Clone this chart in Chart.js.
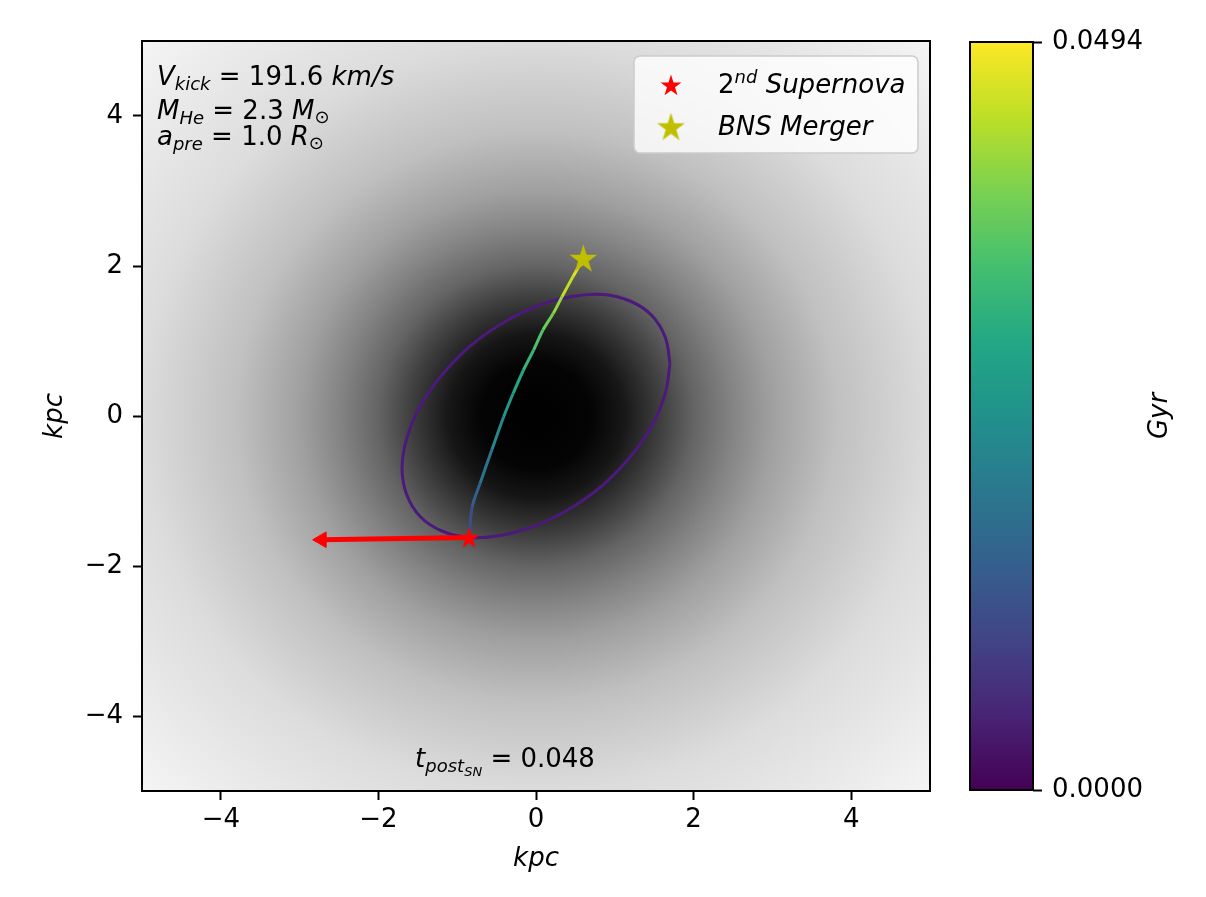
<!DOCTYPE html>
<html lang="en">
<head>
  <meta charset="UTF-8">
  <title>Post-SN kick trajectory</title>
  <script src="https://cdn.jsdelivr.net/npm/chart.js"></script>
  <style>
    body { margin: 0; background: #fff; }
    #wrap { position: relative; width: 1206px; height: 897px; }
    #main { position: absolute; left: 0; top: 0; }
    #cbar { position: absolute; left: 945px; top: 0; }
  </style>
</head>
<body>
<div id="wrap">
  <canvas id="main" width="945" height="897"></canvas>
  <canvas id="cbar" width="261" height="897"></canvas>
</div>

<script>
  // ---- data ----
  const xTicks = [-4, -2, 0, 2, 4];
  const yTicks = [-4, -2, 0, 2, 4];
  const axisMin = -5, axisMax = 5;

  // pre-SN orbit (purple loop)
  const orbitX = [1.70, 1.64, 1.47, 1.20, 0.85, 0.44, 0.00, -0.44, -0.85, -1.20, -1.47, -1.64,
                  -1.70, -1.64, -1.47, -1.20, -0.85, -0.44, 0.00, 0.44, 0.85, 1.20, 1.47, 1.64];
  const orbitY = [0.70, 1.05, 1.34, 1.53, 1.62, 1.59, 1.46, 1.23, 0.92, 0.54, 0.13, -0.30,
                  -0.70, -1.05, -1.34, -1.53, -1.62, -1.59, -1.46, -1.23, -0.92, -0.54, -0.13, 0.30];

  // post-SN track, coloured by time (Gyr)
  const trackX = [-0.85, -0.81, -0.71, -0.56, -0.41, -0.29, -0.16, -0.03, 0.09, 0.22, 0.33, 0.47, 0.60];
  const trackY = [-1.62, -1.21, -0.90, -0.45, -0.01, 0.30, 0.61, 0.88, 1.15, 1.37, 1.59, 1.86, 2.10];
  const trackT = [0.010, 0.013, 0.017, 0.021, 0.025, 0.028, 0.031, 0.034, 0.037, 0.040, 0.043, 0.046, 0.048];

  const snPos = [-0.85, -1.62];
  const mergerPos = [0.60, 2.10];
  const kickHead = [-2.72, -1.65];

  const cbTicks = [0, 0.0494];
  const tPostSN = '0.048';

  // ---- helpers ----
  const FONT = "'DejaVu Sans'";
  Chart.defaults.font.family = FONT;
  Chart.defaults.font.size = 26;
  Chart.defaults.color = '#000';

  const VIRIDIS = ['#440154', '#482475', '#414487', '#355f8d', '#2a788e', '#21918c',
                   '#22a884', '#44bf70', '#7ad151', '#bddf26', '#fde725'];

  function hexRgb(h) {
    return [1, 3, 5].map(i => parseInt(h.slice(i, i + 2), 16));
  }
  function viridis(f) {
    f = Math.min(1, Math.max(0, f));
    const p = f * 10, i = Math.min(9, Math.floor(p)), k = p - i;
    const a = hexRgb(VIRIDIS[i]), b = hexRgb(VIRIDIS[i + 1]);
    const c = a.map((v, j) => Math.round(v + (b[j] - v) * k));
    return `rgb(${c[0]},${c[1]},${c[2]})`;
  }

  function starImage(size, color) {
    const c = document.createElement('canvas');
    c.width = c.height = size;
    const g = c.getContext('2d');
    const R = size / 2, r = R * 0.382;
    g.beginPath();
    for (let i = 0; i < 10; i++) {
      const a = -Math.PI / 2 + i * Math.PI / 5;
      const rr = i % 2 ? r : R;
      g.lineTo(R + rr * Math.cos(a), R + rr * 1.05 * Math.sin(a) + 1);
    }
    g.closePath();
    g.fillStyle = color;
    g.fill();
    return c;
  }
  const snStar = starImage(22, '#ff0000');
  const mergerStar = starImage(29, '#bfbf00');

  // mathtext-ish runs: [text, kind]
  const RUN = {
    r:     { size: 26, it: false, dy: 0 },
    i:     { size: 26, it: true,  dy: 0 },
    isub:  { size: 18, it: true,  dy: 5 },
    rsub:  { size: 18, it: false, dy: 4 },
    isup:  { size: 18, it: true,  dy: -10 },
    isub2: { size: 13, it: true,  dy: 9 }
  };
  function runFont(k) {
    const s = RUN[k];
    return (s.it ? 'italic ' : '') + s.size + 'px ' + FONT;
  }
  function richWidth(ctx, parts) {
    return parts.reduce((w, [t, k]) => { ctx.font = runFont(k); return w + ctx.measureText(t).width; }, 0);
  }
  function drawRich(ctx, x, y, parts, center) {
    if (center) x -= richWidth(ctx, parts) / 2;
    ctx.textAlign = 'left';
    ctx.textBaseline = 'alphabetic';
    ctx.fillStyle = '#000';
    parts.forEach(([t, k]) => {
      ctx.font = runFont(k);
      ctx.fillText(t, x, y + RUN[k].dy);
      x += ctx.measureText(t).width;
    });
  }

  function fmtTick(v) {
    return v < 0 ? '\u2212' + Math.abs(v) : String(v);
  }

  // grey density backdrop (radial falloff, data units -> grey level)
  const SHADE = [[0, 0], [0.7, 4], [1.1, 22], [1.6, 64], [2.0, 100], [2.5, 132],
                 [3.0, 160], [3.8, 192], [5.0, 220], [7.1, 245]];

  const backdrop = {
    id: 'backdrop',
    beforeDraw(chart) {
      const { ctx, chartArea: a, scales: { x, y } } = chart;
      const cx = x.getPixelForValue(0), cy = y.getPixelForValue(0);
      const ux = x.getPixelForValue(1) - cx, uy = cy - y.getPixelForValue(1);
      const R = 7.1 * ux;
      ctx.save();
      ctx.beginPath();
      ctx.rect(a.left, a.top, a.width, a.height);
      ctx.clip();
      ctx.translate(cx, cy);
      ctx.scale(1, uy / ux);
      const g = ctx.createRadialGradient(0, 0, 0, 0, 0, R);
      SHADE.forEach(([r, v]) => g.addColorStop(r / 7.1, `rgb(${v},${v},${v})`));
      ctx.fillStyle = g;
      ctx.fillRect(-2 * R, -2 * R, 4 * R, 4 * R);
      ctx.restore();
    }
  };

  const overlay = {
    id: 'overlay',
    afterDraw(chart) {
      const { ctx, chartArea: a } = chart;
      ctx.save();
      // frame
      ctx.strokeStyle = '#000';
      ctx.lineWidth = 2;
      ctx.strokeRect(a.left, a.top, a.width, a.height);

      // parameter text, top left
      drawRich(ctx, a.left + 15, 85, [['V', 'i'], ['kick', 'isub'], [' = 191.6 ', 'r'], ['km/s', 'i']]);
      drawRich(ctx, a.left + 15, 119, [['M', 'i'], ['He', 'isub'], [' = 2.3 ', 'r'], ['M', 'i'], ['\u2299', 'rsub']]);
      drawRich(ctx, a.left + 15, 145, [['a', 'i'], ['pre', 'isub'], [' = 1.0 ', 'r'], ['R', 'i'], ['\u2299', 'rsub']]);

      // time stamp, bottom
      drawRich(ctx, 505, 767, [['t', 'i'], ['post', 'isub'], ['SN', 'isub2'], [' = ' + tPostSN, 'r']], true);

      // legend
      const lx = 634, ly = 56, lw = 284, lh = 97;
      ctx.beginPath();
      ctx.roundRect(lx, ly, lw, lh, 6);
      ctx.fillStyle = 'rgba(255,255,255,0.8)';
      ctx.fill();
      ctx.strokeStyle = '#cccccc';
      ctx.lineWidth = 1.5;
      ctx.stroke();
      ctx.drawImage(snStar, 671 - snStar.width / 2, 85 - snStar.height / 2);
      ctx.drawImage(mergerStar, 671 - mergerStar.width / 2, 127 - mergerStar.height / 2);
      drawRich(ctx, 718, 93, [['2', 'r'], ['nd', 'isup'], [' Supernova', 'i']]);
      drawRich(ctx, 718, 135, [['BNS Merger', 'i']]);
      ctx.restore();
    }
  };

  const toPts = (xs, ys) => xs.map((x, i) => ({ x, y: ys[i] }));
  const orbitPts = toPts(orbitX, orbitY);
  orbitPts.push(orbitPts[0]);
  const tMax = cbTicks[1];

  const tickGrid = {
    display: true, drawOnChartArea: false, drawTicks: true,
    tickLength: 9, tickWidth: 2, tickColor: '#000', color: '#000'
  };

  new Chart(document.getElementById('main'), {
    type: 'scatter',
    data: {
      datasets: [
        {
          label: '2nd Supernova', data: toPts([snPos[0]], [snPos[1]]),
          pointStyle: snStar, pointRadius: 11, order: 0
        },
        {
          label: 'BNS Merger', data: toPts([mergerPos[0]], [mergerPos[1]]),
          pointStyle: mergerStar, pointRadius: 14, order: 0
        },
        {
          label: 'kick', data: toPts([snPos[0], kickHead[0]], [snPos[1], kickHead[1]]),
          showLine: true, borderColor: '#ff0000', borderWidth: 5,
          pointStyle: 'triangle', pointRadius: [0, 9], pointRotation: 270,
          pointBackgroundColor: '#ff0000', pointBorderColor: '#ff0000', pointBorderWidth: 1,
          order: 1
        },
        {
          label: 'track', data: toPts(trackX, trackY),
          showLine: true, borderWidth: 3, pointRadius: 0, tension: 0.3,
          borderColor: viridis(0.5),
          segment: {
            borderColor: c => viridis((trackT[c.p0DataIndex] + trackT[c.p1DataIndex]) / 2 / tMax)
          },
          order: 2
        },
        {
          label: 'orbit', data: orbitPts,
          showLine: true, borderColor: '#4b1a7a', borderWidth: 3, pointRadius: 0, tension: 0.4,
          order: 3
        }
      ]
    },
    options: {
      responsive: false,
      animation: false,
      layout: { padding: { top: 41, right: 15, left: 0, bottom: 0 } },
      plugins: { legend: { display: false }, tooltip: { enabled: false } },
      scales: {
        x: {
          type: 'linear', min: axisMin, max: axisMax,
          afterBuildTicks: s => { s.ticks = xTicks.map(v => ({ value: v })); },
          afterFit: s => { s.height = 106; },
          ticks: { padding: 5, callback: fmtTick },
          grid: tickGrid,
          border: { display: true, color: '#000', width: 2 },
          title: { display: true, text: 'kpc', font: { style: 'italic', size: 26 }, padding: { top: 0, bottom: 22 } }
        },
        y: {
          type: 'linear', min: axisMin, max: axisMax,
          afterBuildTicks: s => { s.ticks = yTicks.map(v => ({ value: v })); },
          afterFit: s => { s.width = 142; },
          ticks: { padding: 10, callback: fmtTick },
          grid: tickGrid,
          border: { display: true, color: '#000', width: 2 },
          title: { display: true, text: 'kpc', font: { style: 'italic', size: 26 }, padding: { top: 40, bottom: 0 } }
        }
      }
    },
    plugins: [backdrop, overlay]
  });

  // ---- colour bar ----
  const cbFrame = {
    id: 'cbFrame',
    afterDraw(chart) {
      const { ctx, chartArea: a } = chart;
      ctx.save();
      ctx.strokeStyle = '#000';
      ctx.lineWidth = 2;
      ctx.strokeRect(a.left, a.top, a.width, a.height);
      ctx.translate(215, (a.top + a.bottom) / 2);
      ctx.rotate(-Math.PI / 2);
      ctx.font = 'italic 26px ' + FONT;
      ctx.textAlign = 'center';
      ctx.textBaseline = 'middle';
      ctx.fillStyle = '#000';
      ctx.fillText('Gyr', 0, 0);
      ctx.restore();
    }
  };

  new Chart(document.getElementById('cbar'), {
    type: 'bar',
    data: {
      labels: ['Gyr'],
      datasets: [{
        data: [[cbTicks[0], cbTicks[1]]],
        barPercentage: 1, categoryPercentage: 1, borderWidth: 0,
        backgroundColor: c => {
          const ch = c.chart, ys = ch.scales.y;
          if (!ys || !ch.chartArea) return VIRIDIS[5];
          const g = ch.ctx.createLinearGradient(0, ys.getPixelForValue(cbTicks[0]), 0, ys.getPixelForValue(cbTicks[1]));
          VIRIDIS.forEach((col, i) => g.addColorStop(i / 10, col));
          return g;
        }
      }]
    },
    options: {
      responsive: false,
      animation: false,
      layout: { padding: { top: 42, bottom: 107, left: 25, right: 0 } },
      plugins: { legend: { display: false }, tooltip: { enabled: false } },
      scales: {
        x: { display: false },
        y: {
          position: 'right', min: cbTicks[0], max: cbTicks[1],
          afterBuildTicks: s => { s.ticks = cbTicks.map(v => ({ value: v })); },
          afterFit: s => { s.width = 173; },
          ticks: { padding: 10, callback: v => v.toFixed(4) },
          grid: tickGrid,
          border: { display: false }
        }
      }
    },
    plugins: [cbFrame]
  });
</script>
</body>
</html>
